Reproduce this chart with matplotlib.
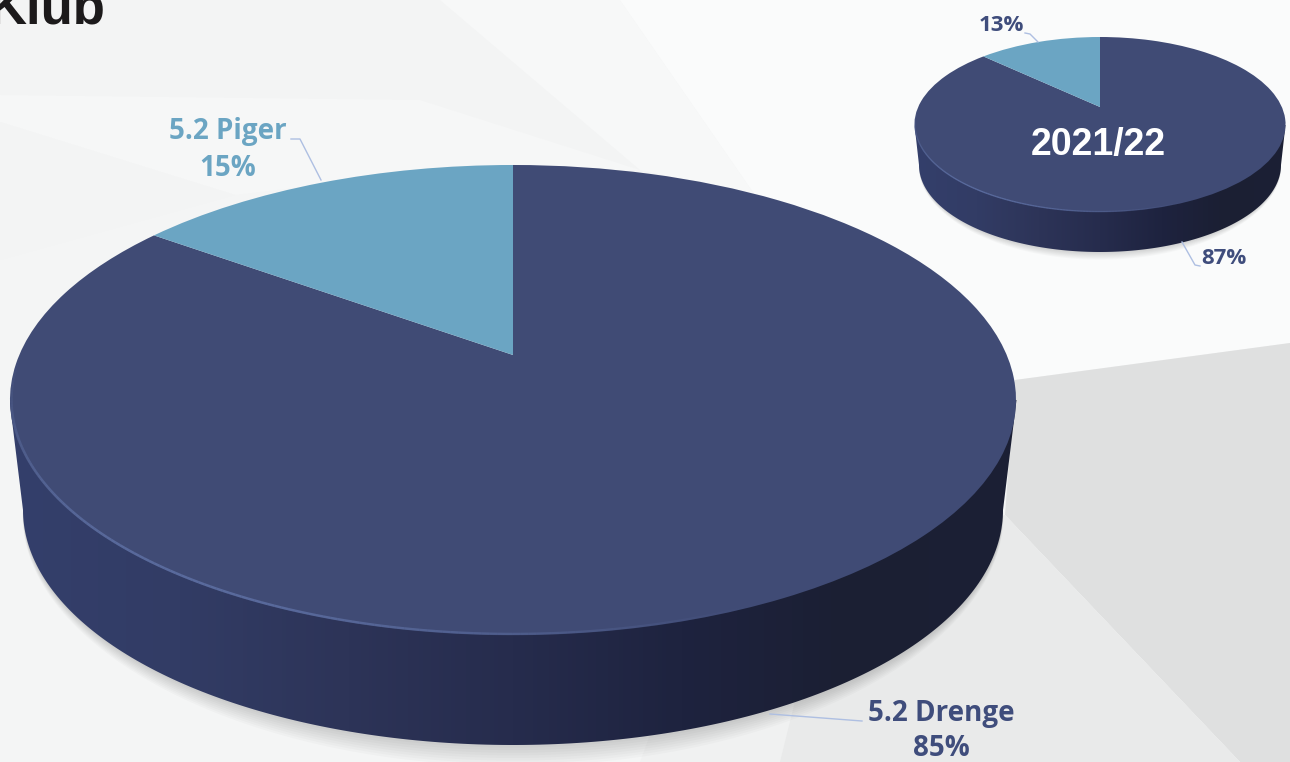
import numpy as np

import matplotlib
matplotlib.use("Agg")
import matplotlib.pyplot as plt
from matplotlib.collections import LineCollection
from matplotlib.colors import LinearSegmentedColormap, to_rgb
from matplotlib.patches import Polygon
from matplotlib.transforms import Transform


# -----------------------------------------------------------------------------
# Data
# -----------------------------------------------------------------------------

labels_big = ["5.2 Drenge", "5.2 Piger"]
values_big = [85, 15]

labels_small = ["Drenge", "Piger"]
values_small = [87, 13]

season_small = "2021/22"

NAVY = "#404b75"
BLUE = "#6ba5c3"
LABEL_NAVY = "#3f4d7c"
LEADER = "#aebfe2"
SIDE_COLORS = ["#343f6b", "#323c65", "#2d3458", "#262c4d", "#1e233f", "#1b1f33", "#1c2035"]


# -----------------------------------------------------------------------------
# Tilted disc: a homography from the unit circle to pixels
# -----------------------------------------------------------------------------

class Tilt(Transform):
    input_dims = 2
    output_dims = 2
    is_separable = False

    def __init__(self, cx, tip_y, a, b, k):
        super().__init__()
        self.cx, self.tip_y, self.a, self.b, self.k = cx, tip_y, a, b, k

    def transform_non_affine(self, values):
        x, y = values[:, 0], values[:, 1]
        d = 1 + self.k * y
        return np.column_stack([self.cx + self.a * x / d, self.tip_y - self.b * y / d])


fig = plt.figure(figsize=(12.9, 7.62), dpi=100)
ax = fig.add_axes([0, 0, 1, 1])
ax.set_facecolor("#f4f5f5")


# -----------------------------------------------------------------------------
# Background facets
# -----------------------------------------------------------------------------

facets = [
    ([(0, 0), (440, 0), (640, 170), (420, 100), (0, 95)], "#f3f4f4"),
    ([(0, 95), (420, 100), (640, 170), (320, 185), (235, 195), (0, 122)], "#f6f7f7"),
    ([(0, 122), (235, 195), (0, 260)], "#f3f4f4"),
    ([(440, 0), (620, 0), (755, 195), (640, 170)], "#f7f8f8"),
    ([(620, 0), (1290, 0), (1290, 343), (1015, 380), (755, 195)], "#fafbfb"),
    ([(1015, 380), (1290, 343), (1290, 762), (1240, 762), (1005, 515)], "#dfe0e0"),
    ([(700, 600), (1005, 515), (1240, 762), (640, 762)], "#f0f1f1"),
    ([(820, 600), (1005, 515), (1240, 762), (780, 762)], "#e9eaea"),
]
for pts, col in facets:
    ax.add_patch(Polygon(pts, closed=True, fc=col, ec="none", zorder=0))


# -----------------------------------------------------------------------------
# Discs
# -----------------------------------------------------------------------------

side_cmap = LinearSegmentedColormap.from_list("side", SIDE_COLORS)


def draw_disc(values, cx, tip_y, a, b, k, top_rx, top_cy, low_rx, low_cy, low_ry, lw_rim):
    t = np.linspace(np.pi, 0, 200)
    low_x = cx + low_rx * np.cos(t)
    low_y = low_cy + low_ry * np.sin(t)

    # soft shadow under the rim, fading out towards the sides
    for i in range(1, 9):
        grow = i * low_ry / 90 * np.sin(t)
        ax.fill(cx + (low_rx + grow * 0.7) * np.cos(t), low_cy + (low_ry + grow) * np.sin(t),
                color="black", alpha=0.018, lw=0, zorder=1)

    outline = np.column_stack([
        np.r_[cx - top_rx, low_x, cx + top_rx],
        np.r_[top_cy, low_y, top_cy],
    ])
    side = Polygon(outline, closed=True, fc="none", ec="none", transform=ax.transData)
    ax.add_patch(side)
    im = ax.imshow(np.linspace(0, 1, 256).reshape(1, -1), cmap=side_cmap, aspect="auto",
                   extent=(cx - top_rx, cx + top_rx, low_cy + low_ry, top_cy - 10),
                   interpolation="bilinear", zorder=2)
    im.set_clip_path(side)

    tilt = Tilt(cx, tip_y, a, b, k)
    wedges, _ = ax.pie(values, colors=[NAVY, BLUE], startangle=90, counterclock=False,
                       frame=True, wedgeprops={"linewidth": 0, "zorder": 3})
    for w in wedges:
        w.set_transform(tilt + ax.transData)

    # thin light rim on the front edge of the top face
    ang = np.radians(np.linspace(178, 295, 160))
    rim = tilt.transform_non_affine(np.column_stack([0.997 * np.cos(ang), 0.997 * np.sin(ang)]))
    segs = np.stack([rim[:-1], rim[1:]], axis=1)
    alpha = np.sin(np.linspace(0, np.pi, len(segs))) ** 1.2 * 0.6
    cols = np.zeros((len(segs), 4))
    cols[:, :3] = to_rgb("#6b80b8")
    cols[:, 3] = alpha
    ax.add_collection(LineCollection(segs, colors=cols, linewidths=lw_rim, zorder=4), autolim=False)


draw_disc(values_big, cx=513, tip_y=355, a=493.7, b=226.4, k=0.1915,
          top_rx=503.5, top_cy=400, low_rx=490, low_cy=510, low_ry=235, lw_rim=1.8)
draw_disc(values_small, cx=1100, tip_y=107, a=181.8, b=84.0, k=0.2,
          top_rx=185.5, top_cy=125, low_rx=181, low_cy=165, low_ry=87, lw_rim=1.0)


# -----------------------------------------------------------------------------
# Leader lines and text
# -----------------------------------------------------------------------------

leaders = [
    ([291, 300, 321], [139, 139, 180]),
    ([770, 862], [714, 721]),
    ([1025, 1030, 1038], [33, 34, 42]),
    ([1182, 1195, 1200], [242, 265, 266]),
]
for xs, ys in leaders:
    ax.plot(xs, ys, color=LEADER, lw=1.0, zorder=5)

label_font = {"family": "Open Sans", "weight": "bold", "ha": "center", "va": "baseline", "zorder": 6}

ax.text(228, 139, labels_big[1], color=BLUE, fontsize=20, **label_font)
ax.text(228, 176, "{}%".format(values_big[1]), color=BLUE, fontsize=20, **label_font)
ax.text(941, 721, labels_big[0], color=LABEL_NAVY, fontsize=20, **label_font)
ax.text(941, 756, "{}%".format(values_big[0]), color=LABEL_NAVY, fontsize=20, **label_font)
ax.text(1001, 31, "{}%".format(values_small[1]), color=LABEL_NAVY, fontsize=16, **label_font)
ax.text(1224, 264, "{}%".format(values_small[0]), color=LABEL_NAVY, fontsize=16, **label_font)

ax.text(1098, 155, season_small, color="white", fontsize=27, family="Liberation Sans",
        weight="bold", ha="center", va="baseline", zorder=6)
ax.text(-12, 24, "Klub", color="#1c1a1b", fontsize=38, family="Liberation Sans",
        weight="bold", ha="left", va="baseline", zorder=6)

ax.set_aspect("auto")
ax.set_xlim(0, 1290)
ax.set_ylim(762, 0)
ax.set_xticks([])
ax.set_yticks([])
for s in ax.spines.values():
    s.set_visible(False)

fig.savefig("out.png", dpi=100, facecolor="#f4f5f5")
